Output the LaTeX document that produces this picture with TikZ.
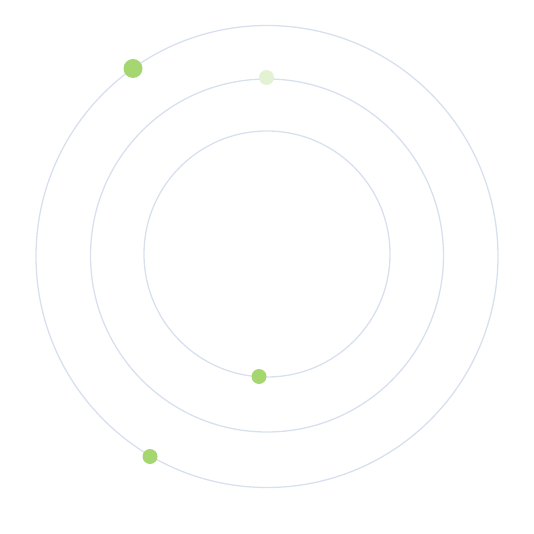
\documentclass[tikz,border=0pt]{standalone}
\usepackage{xcolor}
\usepackage{tikz}
\usetikzlibrary{calc}
\definecolor{ORing}{HTML}{D8E0EE}
\definecolor{OGreen}{HTML}{A5D670}
\definecolor{OPale}{HTML}{E3F2D3}

\begin{document}
\begin{tikzpicture}[x=1pt,y=-1pt]
\useasboundingbox (0,0) rectangle (534,534);
% orbits
\foreach \cy/\r in {256.5/231, 255.5/176.5, 254/123}{
  \draw[ORing, line width=1.3pt] (267,\cy) circle[radius=\r];
}
% planets
\fill[OGreen] (133,68.5) circle[radius=9.5];
\fill[OPale] (266.5,77.5) circle[radius=7.5];
\foreach \x/\y in {259/376.5, 150/456.5}{
  \fill[OGreen] (\x,\y) circle[radius=7.5];
}
\end{tikzpicture}
\end{document}
